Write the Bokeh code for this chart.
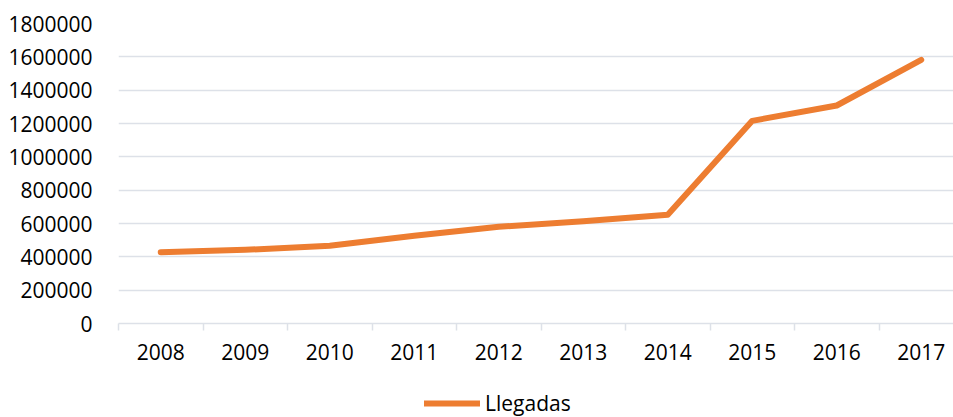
from bokeh.plotting import figure
from bokeh.layouts import column
from bokeh.models import Range1d, FixedTicker, Legend, LegendItem
from bokeh.embed import file_html
from bokeh.resources import INLINE

years = ["2008", "2009", "2010", "2011", "2012", "2013", "2014", "2015", "2016", "2017"]
llegadas = [428000, 442000, 466000, 526000, 580000, 614000, 652000, 1216000, 1308000, 1582000]
y_ticks = [0, 200000, 400000, 600000, 800000, 1000000, 1200000, 1400000, 1600000, 1800000]
series_name = "Llegadas"

FONT = "Open Sans"
ORANGE = "#ED7D31"
GRID = "#dde1e8"
FS = "21px"

xs = list(range(len(years)))

p = figure(width=953, height=383, output_backend="svg", toolbar_location=None,
           x_range=Range1d(-0.5, -0.5 + 835 / 84.5), y_range=Range1d(0, 1800000),
           min_border_left=118, min_border_right=0, min_border_top=23, min_border_bottom=60)
p.outline_line_color = None

r = p.line(xs, llegadas, line_color=ORANGE, line_width=6, line_cap="round", line_join="round")

p.xaxis.ticker = FixedTicker(ticks=xs, minor_ticks=[i - 0.5 for i in range(len(years) + 1)])
p.xaxis.major_label_overrides = {i: y for i, y in enumerate(years)}
p.xaxis.major_tick_line_color = None
p.xaxis.minor_tick_line_color = GRID
p.xaxis.minor_tick_line_width = 1.5
p.xaxis.minor_tick_out = 7
p.xaxis.minor_tick_in = 0
p.xaxis.axis_line_color = GRID
p.xaxis.axis_line_width = 1.5
p.xaxis.major_label_text_font = FONT
p.xaxis.major_label_text_font_size = FS
p.xaxis.major_label_text_color = "#000000"
p.xaxis.major_label_standoff = 13
p.xgrid.grid_line_color = None

p.yaxis.ticker = FixedTicker(ticks=y_ticks)
p.yaxis.major_label_overrides = {t: str(t) for t in y_ticks}
p.yaxis.axis_line_color = None
p.yaxis.major_tick_line_color = None
p.yaxis.minor_tick_line_color = None
p.yaxis.major_label_text_font = FONT
p.yaxis.major_label_text_font_size = FS
p.yaxis.major_label_text_color = "#000000"
p.yaxis.major_label_standoff = 20
p.ygrid.ticker = FixedTicker(ticks=y_ticks)
p.ygrid.grid_line_color = GRID
p.ygrid.grid_line_width = 1.5

# legend strip (its frame is aligned with the main frame by the column layout)
p2 = figure(width=953, height=34, output_backend="svg", toolbar_location=None,
            x_range=Range1d(0, 1), y_range=Range1d(0, 1),
            min_border=0, x_axis_location=None, y_axis_location=None)
p2.outline_line_color = None
p2.xgrid.grid_line_color = None
p2.ygrid.grid_line_color = None
# same series; it lies outside this strip's ranges, so only its legend key shows
r2 = p2.line(xs, llegadas, line_color=ORANGE, line_width=6, line_cap="round")

legend = Legend(items=[LegendItem(label=series_name, renderers=[r2])],
                location=(306, 0), orientation="horizontal",
                glyph_width=56, glyph_height=20, label_standoff=5,
                label_text_font=FONT, label_text_font_size=FS,
                label_text_color="#000000", padding=0, margin=0,
                border_line_color=None, background_fill_alpha=0)
p2.add_layout(legend, "center")

layout = column(p, p2, spacing=0)
open("out.html", "w").write(file_html(layout, INLINE))
